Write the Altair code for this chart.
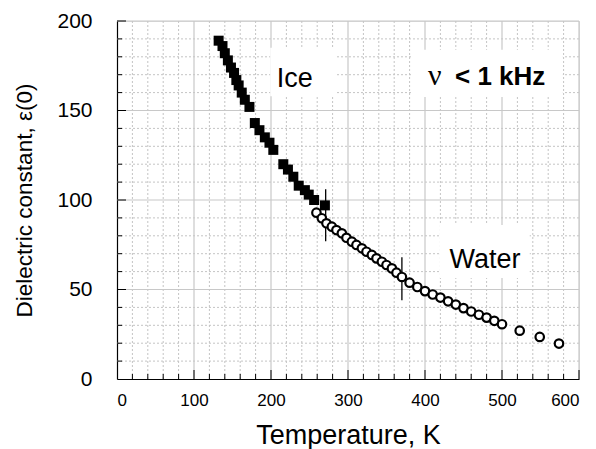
import altair as alt
import pandas as pd

# Static dielectric constant of ice and water versus temperature
ice_T = [132, 137, 140, 144, 148, 152, 155, 158, 162, 166, 172, 179, 185, 192,
         198, 203, 216, 222, 229, 236, 244, 249, 256, 270]
ice_eps = [189, 186, 182, 178, 174, 171, 167, 164, 160, 156, 152, 143, 139, 135,
           132, 128, 120, 117, 113, 108, 105.5, 103, 100, 97]

water_T = [259, 266, 272, 279, 285, 292, 298, 305, 311, 318, 324, 331, 337, 344,
           350, 357, 363, 370, 380, 390, 400, 410, 420, 430, 440, 450, 460, 470,
           480, 490, 500, 523, 549, 574]
water_eps = [92.9, 89.8, 87.0, 85.1, 83.2, 81.4, 78.9, 76.7, 74.9, 73.0, 71.1,
             69.3, 67.4, 65.5, 63.7, 61.8, 59.4, 57.0, 53.8, 51.4, 49.1, 47.2,
             45.5, 43.4, 41.6, 39.6, 37.7, 35.9, 34.3, 32.5, 30.6, 27.0, 23.5, 19.8]

# Phase-transition markers (melting and boiling)
trans_T = [271, 370]
trans_lo = [77, 44]
trans_hi = [106, 68]

x_labels = [0, 100, 200, 300, 400, 500, 600]
y_labels = [0, 50, 100, 150, 200]

W, H = 462, 358
FONT = "Liberation Sans"

xs = alt.Scale(domain=[0, 600], nice=False, zero=False)
ys = alt.Scale(domain=[0, 200], nice=False, zero=False)

x_minor = [v for v in range(20, 600, 20) if v % 100]
x_major = list(range(100, 601, 100))
y_minor = [v for v in range(10, 200, 10) if v % 50]
y_major = list(range(50, 201, 50))

grid_x_minor = alt.Chart(pd.DataFrame({"v": x_minor})).mark_rule(
    color="#c4c4c4", strokeDash=[2, 2], strokeWidth=1
).encode(x=alt.X("v:Q", scale=xs, axis=None))
grid_x_major = alt.Chart(pd.DataFrame({"v": x_major})).mark_rule(
    color="#c8c8c8", strokeWidth=1.2
).encode(x=alt.X("v:Q", scale=xs, axis=None))
grid_y_minor = alt.Chart(pd.DataFrame({"v": y_minor})).mark_rule(
    color="#c4c4c4", strokeDash=[2, 2], strokeWidth=1
).encode(y=alt.Y("v:Q", scale=ys, axis=None))
grid_y_major = alt.Chart(pd.DataFrame({"v": y_major})).mark_rule(
    color="#c8c8c8", strokeWidth=1.2
).encode(y=alt.Y("v:Q", scale=ys, axis=None))

# Inward tick marks
ticks_x_minor = alt.Chart(pd.DataFrame({"v": x_minor})).mark_rule(
    color="black", strokeWidth=1
).encode(x=alt.X("v:Q", scale=xs, axis=None), y=alt.value(H), y2=alt.value(H - 5))
ticks_x_major = alt.Chart(pd.DataFrame({"v": x_major})).mark_rule(
    color="black", strokeWidth=1
).encode(x=alt.X("v:Q", scale=xs, axis=None), y=alt.value(H), y2=alt.value(H - 9))
ticks_y_minor = alt.Chart(pd.DataFrame({"v": y_minor})).mark_rule(
    color="black", strokeWidth=1
).encode(y=alt.Y("v:Q", scale=ys, axis=None), x=alt.value(0), x2=alt.value(5))
ticks_y_major = alt.Chart(pd.DataFrame({"v": y_major})).mark_rule(
    color="black", strokeWidth=1
).encode(y=alt.Y("v:Q", scale=ys, axis=None), x=alt.value(0), x2=alt.value(9))

# White backgrounds behind the annotations
boxes = alt.Chart(pd.DataFrame({
    "x0": [199, 383, 419], "x1": [285, 579, 536],
    "y0": [158, 157.5, 56.4], "y1": [185, 184, 86],
})).mark_rect(color="white").encode(
    x=alt.X("x0:Q", scale=xs, axis=None), x2="x1:Q",
    y=alt.Y("y0:Q", scale=ys, axis=None), y2="y1:Q",
)

x_axis = alt.Axis(
    values=x_labels, grid=False, ticks=False, tickSize=0, labelPadding=13,
    labelFontSize=17, labelFont=FONT, labelColor="black", domainColor="black",
    domainWidth=1.2, title="Temperature, K", titleFontSize=27, titleFont=FONT,
    titleFontWeight="normal", titleColor="black", titleBaseline="alphabetic",
    titleY=64,
)
y_axis = alt.Axis(
    values=y_labels, grid=False, ticks=False, tickSize=0, labelPadding=25,
    labelFontSize=21, labelFont=FONT, labelColor="black", domainColor="black",
    domainWidth=1.2, title="Dielectric constant, ε(0)", titleFontSize=22.5,
    titleFont=FONT, titleFontWeight="normal", titleColor="black",
    titleBaseline="alphabetic", titleAngle=-90, titleX=-86, titleY=H / 2,
    titleAlign="center",
)

ice_df = pd.DataFrame({"T": ice_T, "eps": ice_eps})

# Axes are carried by an invisible layer drawn first
axes_layer = alt.Chart(ice_df).mark_point(opacity=0).encode(
    x=alt.X("T:Q", scale=xs, axis=x_axis),
    y=alt.Y("eps:Q", scale=ys, axis=y_axis),
)

ice = alt.Chart(ice_df).mark_square(
    size=100, color="black", opacity=1
).encode(
    x=alt.X("T:Q", scale=xs, axis=None),
    y=alt.Y("eps:Q", scale=ys, axis=None),
)

trans = alt.Chart(pd.DataFrame({"T": trans_T, "lo": trans_lo, "hi": trans_hi})).mark_rule(
    color="black", strokeWidth=1.3
).encode(
    x=alt.X("T:Q", scale=xs, axis=None),
    y=alt.Y("lo:Q", scale=ys, axis=None), y2="hi:Q",
)

water = alt.Chart(pd.DataFrame({"T": water_T, "eps": water_eps})).mark_point(
    shape="circle", size=72, filled=True, fill="white", stroke="black",
    strokeWidth=2.2, opacity=1
).encode(
    x=alt.X("T:Q", scale=xs, axis=None),
    y=alt.Y("eps:Q", scale=ys, axis=None),
)

labels = alt.Chart(pd.DataFrame({
    "x": [231, 478], "y": [163.3, 62], "t": ["Ice", "Water"],
})).mark_text(font=FONT, fontSize=27, align="center", baseline="alphabetic",
              color="black").encode(
    x=alt.X("x:Q", scale=xs, axis=None),
    y=alt.Y("y:Q", scale=ys, axis=None),
    text="t:N",
)

nu = alt.Chart(pd.DataFrame({"x": [404], "y": [164], "t": ["ν"]})).mark_text(
    font="Liberation Serif", fontSize=30, align="left", baseline="alphabetic",
    color="black"
).encode(
    x=alt.X("x:Q", scale=xs, axis=None),
    y=alt.Y("y:Q", scale=ys, axis=None),
    text="t:N",
)
freq = alt.Chart(pd.DataFrame({"x": [439], "y": [164], "t": ["< 1 kHz"]})).mark_text(
    font=FONT, fontSize=26, fontWeight="bold", align="left",
    baseline="alphabetic", color="black"
).encode(
    x=alt.X("x:Q", scale=xs, axis=None),
    y=alt.Y("y:Q", scale=ys, axis=None),
    text="t:N",
)

chart = alt.layer(
    axes_layer, grid_x_minor, grid_y_minor, grid_x_major, grid_y_major, boxes,
    ticks_x_minor, ticks_x_major, ticks_y_minor, ticks_y_major,
    trans, water, ice, labels, nu, freq,
).resolve_axis(x="independent", y="independent").properties(
    width=W, height=H,
    padding={"left": 117, "top": 21, "right": 17, "bottom": 70},
    autosize=alt.AutoSizeParams(type="none"),
).configure_view(stroke=None).configure(background="white")

chart.save("out.html", embed_options={"renderer": "svg", "actions": False})
